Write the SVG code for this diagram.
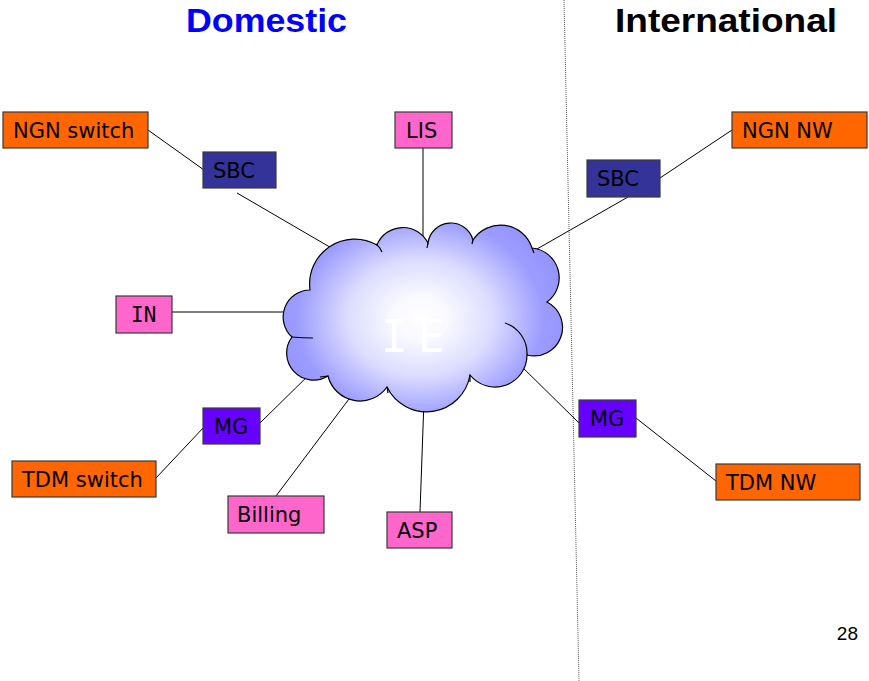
<svg xmlns="http://www.w3.org/2000/svg" width="869" height="681" viewBox="0 0 869 681">
<style>
.box{stroke:#3a3a3a;stroke-width:1.2}
.orange{fill:#FF6600}
.sbc{fill:#333399}
.mg{fill:#6600FF}
.pink{fill:#FF66CC}
.lbl{font-family:"DejaVu Sans",Verdana,sans-serif;font-size:21px;fill:#000}
.mono{font-family:"DejaVu Sans Mono",monospace;font-size:21px;fill:#000}
.conn{stroke:#000;stroke-width:1;fill:none}
.title{font-family:"Liberation Sans",Arial,sans-serif;font-weight:bold;font-size:33px}
</style>
<defs>
<radialGradient id="cg" gradientUnits="userSpaceOnUse" cx="420" cy="318" r="145" gradientTransform="translate(420 318) scale(1 0.8) translate(-420 -318)">
<stop offset="0" stop-color="#ffffff"/>
<stop offset="0.2" stop-color="#f8f8ff"/>
<stop offset="0.5" stop-color="#dcdcff"/>
<stop offset="0.85" stop-color="#9c9cff"/>
<stop offset="1" stop-color="#9595ff"/>
</radialGradient>
</defs>
<rect width="869" height="681" fill="#fff"/>
<line x1="564" y1="0" x2="579" y2="681" stroke="#555" stroke-width="1" stroke-dasharray="1 1"/>
<text class="title" x="186" y="32" fill="#0000FF" textLength="161" lengthAdjust="spacingAndGlyphs">Domestic</text>
<text class="title" x="615" y="32" fill="#000" textLength="222" lengthAdjust="spacingAndGlyphs">International</text>
<g id="connectors">
<line class="conn" x1="148" y1="130" x2="204" y2="170"/>
<line class="conn" x1="237" y1="193" x2="340" y2="253"/>
<line x1="423" y1="148" x2="423" y2="250" stroke="#808080" stroke-width="2"/>
<line class="conn" x1="172" y1="312" x2="295" y2="312" stroke="#333"/>
<line class="conn" x1="530" y1="253" x2="628" y2="197"/>
<line class="conn" x1="660" y1="178" x2="732" y2="130"/>
<line class="conn" x1="515" y1="360" x2="579" y2="423"/>
<line class="conn" x1="636" y1="418" x2="716" y2="481"/>
<line class="conn" x1="315" y1="369" x2="260" y2="423"/>
<line class="conn" x1="204" y1="427" x2="156" y2="478"/>
<line class="conn" x1="355" y1="391" x2="276" y2="496"/>
<line class="conn" x1="424" y1="400" x2="420" y2="512"/>
</g>
<g id="cloud">
<path d="M 310 290 A 45 45 0 0 1 377 245 A 28 28 0 0 1 428 243 A 23 23 0 0 1 473 240 A 33 33 0 0 1 532 248 A 30 30 0 0 1 547 302 A 28.5 28.5 0 0 1 527 355 A 32 32 0 0 1 470 375 A 44 44 0 0 1 387 387 A 33 33 0 0 1 328 376 A 27 27 0 0 1 292 337 A 27 27 0 0 1 310 290 Z" fill="url(#cg)" stroke="#000" stroke-width="1.2"/>
<path d="M 505 323 A 32 32 0 0 1 527 355 M 292 337 Q 302 338 313 338 M 376 244 Q 380 247 382 252 M 328 376 L 320 377 M 387 387 L 388 393 M 470 375 L 470 382 M 428 243 L 427 248 M 473 240 L 472 244 M 532 248 L 534 253" fill="none" stroke="#000" stroke-width="1.2"/>
<text x="381" y="352" font-family="'DejaVu Sans Mono',monospace" font-size="44" fill="#fff" letter-spacing="-8">I E</text>
</g>
<g id="ngn-switch"><rect class="box orange" x="3" y="112" width="145" height="36"/><text class="lbl" x="13" y="138">NGN switch</text></g>
<g id="sbc-dom"><rect class="box sbc" x="203" y="152" width="73" height="36"/><text class="lbl" x="213" y="178">SBC</text></g>
<g id="lis"><rect class="box pink" x="395" y="112" width="57" height="36"/><text class="lbl" x="406" y="138">LIS</text></g>
<g id="ngn-nw"><rect class="box orange" x="732" y="112" width="135" height="36"/><text class="lbl" x="742" y="138">NGN NW</text></g>
<g id="sbc-int"><rect class="box sbc" x="587" y="160" width="73" height="37"/><text class="lbl" x="597" y="186">SBC</text></g>
<g id="in"><rect class="box pink" x="116" y="296" width="56" height="37"/><text class="mono" x="131" y="322">IN</text></g>
<g id="mg-dom"><rect class="box mg" x="203" y="408" width="57" height="36"/><text class="lbl" x="214" y="434">MG</text></g>
<g id="tdm-switch"><rect class="box orange" x="12" y="461" width="144" height="36"/><text class="lbl" x="22" y="487">TDM switch</text></g>
<g id="billing"><rect class="box pink" x="228" y="496" width="96" height="37"/><text class="lbl" x="237" y="522">Billing</text></g>
<g id="asp"><rect class="box pink" x="387" y="512" width="65" height="36"/><text class="lbl" x="397" y="538">ASP</text></g>
<g id="mg-int"><rect class="box mg" x="579" y="400" width="57" height="37"/><text class="lbl" x="590" y="426">MG</text></g>
<g id="tdm-nw"><rect class="box orange" x="716" y="464" width="144" height="36"/><text class="lbl" x="726" y="490">TDM NW</text></g>
<text x="858" y="640" text-anchor="end" font-family="'Liberation Sans',Arial,sans-serif" font-size="19" fill="#000">28</text>
</svg>
